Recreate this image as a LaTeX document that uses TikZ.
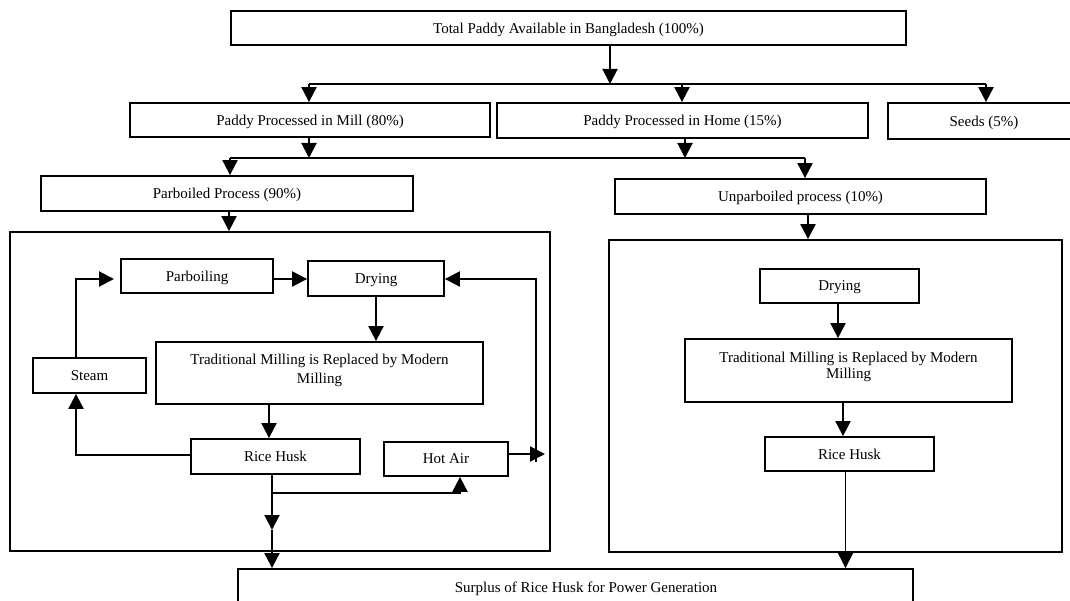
\documentclass[tikz,border=0pt]{standalone}
\usepackage{fontspec}
\setmainfont{Liberation Serif}
\usetikzlibrary{arrows.meta}
\begin{document}
\begin{tikzpicture}[x=1pt,y=-1pt,
  box/.style={draw, line width=1.8pt, inner sep=0pt, font=\fontsize{15}{18}\selectfont, align=center, text depth=0pt},
  mbox/.style={draw, line width=1.8pt, inner sep=0pt, align=center},
  bigbox/.style={draw, line width=1.8pt, inner sep=0pt},
  ln/.style={line width=2pt},
  arr/.style={line width=2pt, -{Triangle[width=15pt,length=15pt]}},
  tarr/.style={line width=1pt, -{Triangle[width=15pt,length=15pt]}}]
\clip (0,0) rectangle (1070,601);
\fill[white] (0,0) rectangle (1070,601);
% big containers
\node[bigbox, minimum width=540pt, minimum height=319pt] (lbox) at (280,391.5) {};
\node[bigbox, minimum width=453pt, minimum height=312pt] (rbox) at (835.5,396) {};
% top level
\node[box, minimum width=675pt, minimum height=34pt] (top) at (568.5,28) {Total Paddy Available in Bangladesh (100\%)};
\node[box, minimum width=360pt, minimum height=34pt] (mill) at (310,120) {Paddy Processed in Mill (80\%)};
\node[box, minimum width=371pt, minimum height=35pt] (home) at (682.5,120.5) {Paddy Processed in Home (15\%)};
\node[box, minimum width=192pt, minimum height=36pt] (seeds) at (984,121) {Seeds (5\%)};
\node[box, minimum width=372pt, minimum height=35pt] (parb) at (227,193.5) {Parboiled Process (90\%)};
\node[box, minimum width=371pt, minimum height=35pt] (unparb) at (800.5,196.5) {Unparboiled process (10\%)};
% left container content
\node[box, minimum width=152pt, minimum height=34pt] (parboiling) at (197,276) {Parboiling};
\node[box, minimum width=136pt, minimum height=35pt] (dryL) at (376,278.5) {Drying};
\node[box, minimum width=113pt, minimum height=35pt] (steam) at (89.5,375.5) {Steam};
\node[mbox, font=\fontsize{15}{19}\selectfont, text height=29pt, text depth=9pt, minimum width=327pt, minimum height=62pt] (tradL) at (319.5,373) {Traditional Milling is Replaced by Modern\\Milling};
\node[box, minimum width=169pt, minimum height=35pt] (rhL) at (275.5,456.5) {Rice Husk};
\node[box, minimum width=124pt, minimum height=34pt] (hot) at (446,459) {Hot Air};
% right container content
\node[box, minimum width=159pt, minimum height=34pt] (dryR) at (839.5,286) {Drying};
\node[mbox, font=\fontsize{15}{16}\selectfont, text height=26pt, text depth=11pt, minimum width=327pt, minimum height=63pt] (tradR) at (848.5,370.5) {Traditional Milling is Replaced by Modern\\Milling};
\node[box, minimum width=169pt, minimum height=34pt] (rhR) at (849.5,454) {Rice Husk};
% bottom
\node[box, minimum width=675pt, minimum height=36pt] (surplus) at (575.5,587) {\hspace*{21pt}Surplus of Rice Husk for Power Generation};
% junction coordinates
\coordinate (j0) at (610,84);
\coordinate (h1L) at (309,84);
\coordinate (h1H) at (682,84);
\coordinate (h1R) at (986,84);
\coordinate (m1) at (309,158);
\coordinate (m2) at (685,158);
\coordinate (h2L) at (230,158);
\coordinate (h2R) at (805,158);
\coordinate (p1) at (229,0);
\coordinate (u1) at (808,0);
\coordinate (sx) at (76,279);
\coordinate (sxe) at (114,279);
\coordinate (sy) at (76,455);
\coordinate (t2) at (269,0);
\coordinate (d1L) at (376,0);
\coordinate (rx) at (272,493);
\coordinate (rmid) at (272,530);
\coordinate (hx) at (460,493);
\coordinate (ha) at (545,454);
\coordinate (hb) at (536,462);
\coordinate (ht) at (536,279);
\coordinate (d1) at (838,0);
\coordinate (d2) at (843,0);
\coordinate (r2) at (845.5,0);
% top connectors
\draw[arr] (top.south -| j0) -- (j0);
\draw[ln] (h1L) -- (h1R);
\draw[arr] (h1L) -- (h1L |- mill.north);
\draw[arr] (h1H) -- (h1H |- home.north);
\draw[arr] (h1R) -- (h1R |- seeds.north);
\draw[arr] (mill.south -| m1) -- (m1);
\draw[arr] (home.south -| m2) -- (m2);
\draw[ln] (h2L) -- (h2R);
\draw[arr] (h2L) -- (h2L |- parb.north);
\draw[arr] (h2R) -- (h2R |- unparb.north);
\draw[arr] (parb.south -| p1) -- (lbox.north -| p1);
\draw[arr] (unparb.south -| u1) -- (rbox.north -| u1);
% left loop
\draw[arr] (parboiling.east |- sx) -- (dryL.west |- sx);
\draw[arr] (steam.north -| sx) -- (sx) -- (sxe);
\draw[arr] (dryL.south -| d1L) -- (tradL.north -| d1L);
\draw[arr] (tradL.south -| t2) -- (rhL.north -| t2);
\draw[arr] (rhL.west |- sy) -- (sy) -- (sx |- steam.south);
\draw[arr] (rhL.south -| rx) -- (rmid);
\draw[arr] (rmid) -- (surplus.north -| rmid);
\draw[arr] (rx) -- (hx) -- (hx |- hot.south);
\draw[arr] (hot.east |- ha) -- (ha);
\draw[arr] (hb) -- (ht) -- (dryL.east |- ht);
% right chain
\draw[arr] (dryR.south -| d1) -- (tradR.north -| d1);
\draw[arr] (tradR.south -| d2) -- (rhR.north -| d2);
\draw[tarr] (rhR.south -| r2) -- (surplus.north -| r2);
\end{tikzpicture}
\end{document}
